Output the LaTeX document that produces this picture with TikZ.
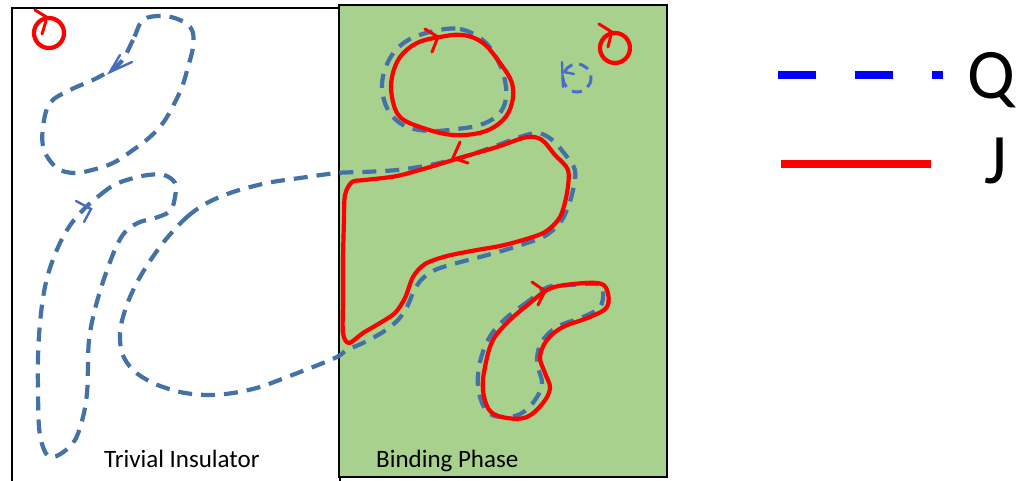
\documentclass[tikz,border=0pt]{standalone}
\usepackage{fontspec}
\setmainfont{Carlito}
\definecolor{phasegreen}{RGB}{169,209,142}
\definecolor{qblue}{RGB}{68,114,166}
\definecolor{tickblue}{RGB}{72,108,200}
\definecolor{jred}{RGB}{255,0,0}
\definecolor{legblue}{RGB}{0,0,255}
\tikzset{
  qloop/.style={draw=qblue, line width=4.2pt, dash pattern=on 14pt off 9pt},
  jloop/.style={draw=jred, line width=4.2pt, line cap=round, line join=round},
  qtick/.style={draw=tickblue, line width=2.4pt, line cap=round},
  jtick/.style={draw=jred, line width=3pt, line cap=round},
  region/.style={draw=black, line width=2.2pt},
  label/.style={font=\fontsize{25}{27}\selectfont, anchor=base west, inner sep=0pt},
  legendtext/.style={font=\fontsize{71}{73}\selectfont, anchor=base west, inner sep=0pt}
}
\begin{document}
\begin{tikzpicture}[x=1pt,y=-1pt]
\useasboundingbox (0,0) rectangle (1018,480);

% the two regions
\draw[region, fill=white] (12,8) rectangle (340,486);
\draw[region, fill=phasegreen] (339,5) rectangle (667,477);

% Q loops in the trivial insulator
\draw[qloop] plot[smooth cycle, tension=0.6] coordinates {
  (143,20) (133,40) (120,63) (97,78) (70,90) (50,103) (43,127) (44,150)
  (57,168) (74,173) (92,170) (113,163) (133,150) (150,137) (163,123)
  (173,106) (182,87) (188,67) (193,47) (192,30) (180,20) (162,16)};
\draw[qtick] (132,62) -- (110,72) -- (120,55);

\draw[qloop] plot[smooth cycle, tension=0.6] coordinates {
  (85,208) (100,195) (114,185) (130,179) (148,175) (164,175) (175,183)
  (175,197) (170,211) (155,218) (140,222) (127,230) (118,243) (110,262)
  (102,285) (94,313) (89,340) (88,367) (87,393) (83,417) (75,440)
  (62,453) (50,457) (43,447) (39,427) (38,390) (38,357) (40,323)
  (44,292) (50,268) (60,243) (71,224)};
\draw[qtick] (76,201) -- (91,209) -- (84,222);

% Q loop crossing into the binding phase
\draw[qloop] plot[smooth cycle, tension=0.55] coordinates {
  (167,238) (187,217) (207,203) (233,192) (267,183) (300,178) (337,173)
  (363,172) (397,170) (430,165) (463,157) (490,148) (517,138) (537,133)
  (551,139) (564,153) (575,170) (573,190) (568,207) (560,223) (545,236)
  (527,243) (505,250) (480,257) (457,263) (435,270) (421,280) (413,293)
  (407,307) (398,320) (383,332) (363,343) (347,350) (337,357) (313,367)
  (287,377) (260,387) (233,393) (207,395) (180,392) (153,383) (133,370)
  (122,353) (120,333) (123,317) (130,297) (140,277) (152,258)};

% J loop bound to it
\draw[jloop] plot[smooth cycle, tension=0.5] coordinates {
  (352,182) (365,180) (397,176) (430,167) (463,157) (497,147) (527,137)
  (542,140) (555,155) (568,170) (567,193) (560,217) (545,232) (523,240)
  (500,246) (477,250) (447,256) (425,264) (413,277) (405,298) (395,313)
  (380,323) (363,333) (349,343) (343,333) (343,300) (343,260) (344,220)
  (345,195)};
\draw[jtick] (460,142) -- (453,158) -- (468,163);

% top bound pair
\draw[qloop] plot[smooth cycle, tension=0.6] coordinates {
  (430,32) (460,29) (485,42) (500,65) (506,87) (505,103) (497,116)
  (480,125) (457,129) (430,131) (405,126) (388,110) (382,85) (389,60)
  (405,42)};
\draw[jloop] plot[smooth cycle, tension=0.6] coordinates {
  (463,35) (483,43) (500,63) (512,83) (512,103) (503,120) (483,132)
  (453,135) (423,128) (400,117) (392,97) (392,77) (400,57) (417,43)
  (440,37)};
\draw[jtick] (425,29) -- (438,37) -- (432,52);

% bottom bound pair
\draw[qloop] plot[smooth cycle, tension=0.6] coordinates {
  (548,287) (530,300) (504,320) (488,340) (479,367) (479,393) (490,414)
  (515,416) (532,404) (542,384) (537,363) (541,343) (557,327) (583,317)
  (600,307) (603,291) (597,284) (570,285)};
\draw[jloop] plot[smooth cycle, tension=0.6] coordinates {
  (547,290) (565,285) (597,283) (607,290) (607,307) (590,317) (563,327)
  (547,340) (540,357) (545,373) (550,388) (543,403) (527,417) (507,418)
  (490,411) (483,390) (485,367) (493,340) (510,320) (530,303)};
\draw[jtick] (532,282) -- (545,291) -- (538,305);

% small loops
\draw[jloop] (49,33) circle (15);
\draw[jtick] (35,10) -- (48,18);
\draw[jtick] (46,21) -- (42,34);

\draw[jloop] (615,48) circle (15);
\draw[jtick] (599,24) -- (615,34);
\draw[jtick] (611,35) -- (608,47);

\draw[draw=tickblue, line width=3pt, dash pattern=on 10pt off 7pt] (577,78) circle (14);
\draw[qtick] (562,62) -- (563,87);
\draw[qtick] (564,72) -- (574,74);

% region names
\node[label] (trivial) at (104,467) {Trivial Insulator};
\node[label] (binding) at (376,467) {Binding Phase};

% legend
\coordinate (qa) at (778,75);
\coordinate (qb) at (943,75);
\draw[draw=legblue, line width=8pt, dash pattern=on 38pt off 39pt] (qa) -- (qb);
\coordinate (ja) at (781,164);
\coordinate (jb) at (931,164);
\draw[draw=jred, line width=8pt] (ja) -- (jb);
\node[legendtext] (qname) at (967,98) {Q};
\node[legendtext] (jname) at (984,183) {J};
\end{tikzpicture}
\end{document}
